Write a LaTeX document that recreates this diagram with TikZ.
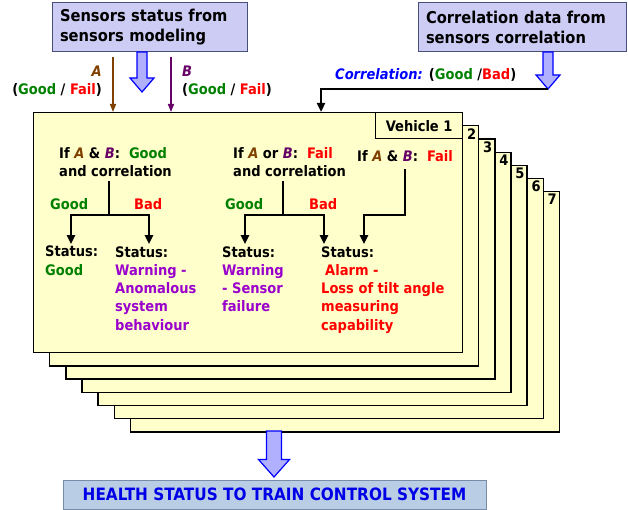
\documentclass[tikz,border=0pt]{standalone}
\usepackage{fontspec}
\setmainfont{DejaVu Sans Condensed}
\usetikzlibrary{positioning,arrows.meta}
\definecolor{boxyellow}{RGB}{255,255,204}
\definecolor{srclav}{RGB}{204,204,245}
\definecolor{srcedge}{RGB}{70,80,120}
\definecolor{fatblue}{RGB}{176,176,255}
\definecolor{goodgreen}{RGB}{0,128,0}
\definecolor{failred}{RGB}{255,0,0}
\definecolor{warnviolet}{RGB}{153,0,204}
\definecolor{abrown}{RGB}{128,64,0}
\definecolor{bpurple}{RGB}{102,0,102}
\definecolor{healthfill}{RGB}{185,205,229}
\definecolor{healthedge}{RGB}{120,140,170}
\definecolor{healthtext}{RGB}{0,0,230}

\newcommand{\txtgood}{\textcolor{goodgreen}{Good}}
\newcommand{\txtfail}{\textcolor{failred}{Fail}}
\newcommand{\txtbad}{\textcolor{failred}{Bad}}
\newcommand{\sensA}{\textcolor{abrown}{\textit{A}}}
\newcommand{\sensB}{\textcolor{bpurple}{\textit{B}}}
\newcommand{\warn}[1]{\textcolor{warnviolet}{#1}}
\newcommand{\alarm}[1]{\textcolor{failred}{#1}}
% x, top, tip, shaft half width, head half width
\newcommand{\fatarrow}[5]{%
  \draw[fill=fatblue, draw=blue, line width=1.2pt, line join=miter]
    (#1-#4,#2) -- (#1+#4,#2) -- (#1+#4,#3-#5-2) -- (#1+#5,#3-#5-2) -- (#1,#3)
    -- (#1-#5,#3-#5-2) -- (#1-#4,#3-#5-2) -- cycle;}

\tikzset{
  txt/.style={font=\bfseries\fontsize{14.5}{18.3}\selectfont, inner sep=2pt, align=left},
  srcbox/.style={txt, draw=srcedge, fill=srclav, line width=1pt, inner xsep=8pt, minimum height=49pt,
    font=\bfseries\fontsize{16.3}{20}\selectfont},
  vbox/.style={draw, fill=boxyellow, line width=1.3pt, minimum width=429pt, minimum height=240pt},
  tree/.style={line width=2.6pt},
  treearr/.style={tree, -{Triangle[length=9pt,width=8pt]}},
  thinarr/.style={line width=1.5pt, -{Triangle[length=8pt,width=6pt]}}
}

\begin{document}
\begin{tikzpicture}[x=1pt,y=-1pt]
  \useasboundingbox (0,0) rectangle (628,510);

  % sources
  \node[srcbox, text width=179pt] (sens) at (149.5,27.5) {Sensors status from\\sensors modeling};
  \node[srcbox, text width=192pt] (corr) at (522,27.5) {Correlation data from\\sensors correlation};

  % vehicle stack
  \foreach \k in {7,6,...,1}{
    \node[vbox, anchor=north west] (v\k) at ({33+16.1*(\k-1)},{112+13.2*(\k-1)}) {};
    \ifnum\k>1 \node[txt, anchor=north east, inner sep=3pt] at (v\k.north east) {\k};\fi
  }
  \node[txt, draw, fill=boxyellow, line width=1.3pt, anchor=north east,
        minimum width=87pt, minimum height=26pt] (veh) at (v1.north east) {Vehicle 1};

  % inputs
  \fatarrow{142}{52}{92}{5}{12}
  \draw[thinarr, abrown] ([xshift=-36.5pt,yshift=-5pt]sens.south) coordinate (aTop) -- (aTop |- v1.north);
  \draw[thinarr, bpurple] ([xshift=21.5pt,yshift=-5pt]sens.south) coordinate (bTop) -- (bTop |- v1.north);
  \node[txt, anchor=base east] (lblA) at (104,77) {\sensA};
  \node[txt, anchor=base east] (valA) at (104,95) {(\txtgood\ / \txtfail)};
  \node[txt, anchor=base west] (lblB) at (180,77) {\sensB};
  \node[txt, anchor=base west] (valB) at (180,95) {(\txtgood\ / \txtfail)};

  \fatarrow{548}{52}{89}{5}{12}
  \coordinate (corrTip) at (548,89);
  \node[txt, anchor=base west] (corrlbl) at (333,80) {\textcolor{blue}{\textit{Correlation:}} (\txtgood\ /\txtbad)};
  \draw[treearr] (corrTip) -| ([xshift=288pt]v1.north west);

  % conditions (base = last line)
  \node[txt, anchor=base west] (condL) at (57,177) {If \sensA\ \& \sensB:\ \ \txtgood\\and correlation};
  \node[txt, anchor=base west] (condM) at (231,177) {If \sensA\ or \sensB:\ \ \txtfail\\and correlation};
  \node[txt, anchor=base west] (condR) at (355,162) {If \sensA\ \& \sensB:\ \ \txtfail};

  % status
  \node[txt, anchor=base west] (stGood) at (43,275.3) {Status:\\\txtgood};
  \node[txt, anchor=base west] (stAnom) at (113,330.2)
    {Status:\\\warn{Warning -}\\\warn{Anomalous}\\\warn{system}\\\warn{behaviour}};
  \node[txt, anchor=base west] (stSens) at (220,311.9)
    {Status:\\\warn{Warning}\\\warn{- Sensor}\\\warn{failure}};
  \node[txt, anchor=base west] (stAlarm) at (319,330.2)
    {Status:\\\hspace{4pt}\alarm{Alarm -}\\\alarm{Loss of tilt angle}\\\alarm{measuring}\\\alarm{capability}};

  \coordinate (tGood) at ([xshift=28pt]stGood.north west);
  \coordinate (tAnom) at ([xshift=36pt]stAnom.north west);
  \coordinate (tSens) at ([xshift=25pt]stSens.north west);
  \coordinate (tAlarm) at ([xshift=5pt]stAlarm.north west);
  \coordinate (tAlarmR) at ([xshift=45pt]stAlarm.north west);
  \coordinate (jL) at (109,215);
  \coordinate (jM) at (283,215);

  \draw[tree] ([yshift=-2pt]jL |- condL.south) -- (jL);
  \draw[treearr] (jL) -| (tGood);
  \draw[treearr] (jL) -| (tAnom);
  \draw[tree] ([yshift=-2pt]jM |- condM.south) -- (jM);
  \draw[treearr] (jM) -| (tSens);
  \draw[treearr] (jM) -| (tAlarm);
  \draw[treearr] ([yshift=-5pt]condR.south) |- (jM -| tAlarmR) -- (tAlarmR);

  \node[txt, anchor=base west, text=goodgreen] (gL) at (48,210) {Good};
  \node[txt, anchor=base west, text=failred] (bL) at (132,210) {Bad};
  \node[txt, anchor=base west, text=goodgreen] (gM) at (223,210) {Good};
  \node[txt, anchor=base west, text=failred] (bM) at (307,210) {Bad};

  % output
  \fatarrow{274}{431}{477}{7.5}{15.5}
  \node[txt, draw=healthedge, fill=healthfill, line width=1pt, text=healthtext,
        minimum width=423pt, minimum height=29pt, font=\bfseries\fontsize{17}{20}\selectfont]
        (health) at (274.5,494.5) {HEALTH STATUS TO TRAIN CONTROL SYSTEM};
\end{tikzpicture}
\end{document}
